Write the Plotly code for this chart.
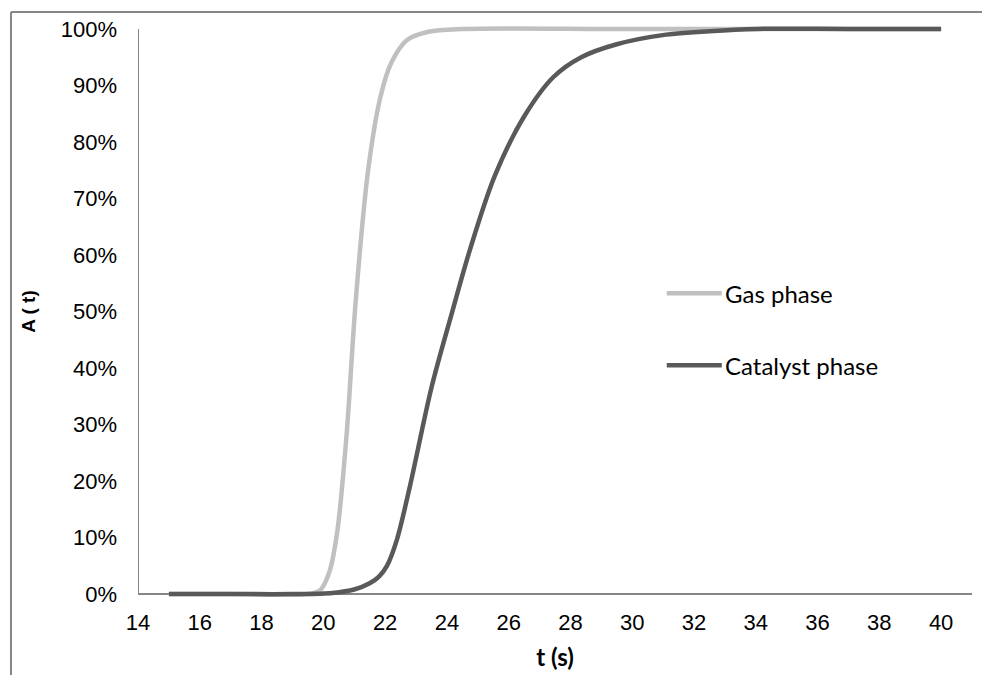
import plotly.graph_objects as go

# ---- data ----
gas_t = [15, 17, 19.5, 19.9, 20.2, 20.45, 20.75, 21.05, 21.45, 21.85, 22.2, 22.7, 23.4, 24.5, 30, 40]
gas_a = [0, 0, 0, 0.7, 4, 11, 28, 52, 75, 88, 94, 98, 99.5, 100, 100, 100]

cat_t = [15, 17, 19, 20.3, 21.0, 21.5, 21.8, 22.06, 22.38, 22.8, 23.5, 24.15, 24.75, 25.55, 26.5,
         27.45, 28.35, 29.5, 31.1, 32.5, 34, 37, 40]
cat_a = [0, 0, 0, 0.2, 0.8, 1.9, 3.1, 5, 9.6, 19, 36.5, 49.5, 61, 74, 84.5,
         91.5, 95, 97.3, 99, 99.6, 100, 100, 100]

series_names = ["Gas phase", "Catalyst phase"]
series_colors = ["#C0C0C0", "#595959"]

x_ticks = list(range(14, 41, 2))
y_ticks = list(range(0, 101, 10))

AXIS_COLOR = "#868686"

fig = go.Figure()
fig.add_trace(go.Scatter(x=gas_t, y=gas_a, mode="lines", name=series_names[0],
                         line=dict(color=series_colors[0], width=4.5, shape="spline", smoothing=0.9),
                         showlegend=False))
fig.add_trace(go.Scatter(x=cat_t, y=cat_a, mode="lines", name=series_names[1],
                         line=dict(color=series_colors[1], width=4.5, shape="spline", smoothing=0.9),
                         showlegend=False))

shapes = [
    # axis lines
    dict(type="line", xref="x", yref="y", x0=14, x1=41, y0=0, y1=0,
         line=dict(color=AXIS_COLOR, width=2), layer="below"),
    dict(type="line", xref="x", yref="y", x0=14, x1=14, y0=0, y1=100,
         line=dict(color=AXIS_COLOR, width=2), layer="below"),
    # chart frame (partially visible)
    dict(type="line", xref="paper", yref="paper", x0=-0.1523, x1=1.2, y0=1.0227, y1=1.0227,
         line=dict(color=AXIS_COLOR, width=2)),
    dict(type="line", xref="paper", yref="paper", x0=-0.1523, x1=-0.1523, y0=-0.3, y1=1.0227,
         line=dict(color=AXIS_COLOR, width=2)),
]

# manual legend
legend_y = [0.532, 0.406]
annotations = []
for name, color, ly in zip(series_names, series_colors, legend_y):
    shapes.append(dict(type="line", xref="paper", yref="paper", x0=0.634, x1=0.700, y0=ly, y1=ly,
                       line=dict(color=color, width=4.5)))
    annotations.append(dict(xref="paper", yref="paper", x=0.702, y=ly, text=name, showarrow=False,
                            xanchor="left", yanchor="middle",
                            font=dict(family="Lato", size=24, color="black")))

# the page body adds an 8px offset, so the figure is 8px smaller than the window
fig.update_layout(
    width=982, height=667,
    margin=dict(l=130, r=18, t=17, b=77),
    paper_bgcolor="white", plot_bgcolor="white",
    shapes=shapes, annotations=annotations,
    showlegend=False,
    xaxis=dict(range=[14, 41], tickvals=x_ticks, ticktext=[str(v) for v in x_ticks],
               showgrid=False, zeroline=False, showline=False, ticks="", automargin=False,
               ticklabelstandoff=9,
               tickfont=dict(family="Liberation Sans, Arial", size=22, color="black"),
               title=dict(text="<b>t (s)</b>", font=dict(family="Lato", size=24, color="black"), standoff=15)),
    yaxis=dict(range=[-0.7, 100.7], tickvals=y_ticks, ticktext=[f"{v}%" for v in y_ticks],
               showgrid=False, zeroline=False, showline=False, ticks="", automargin=False,
               ticklabelstandoff=20,
               tickfont=dict(family="Liberation Sans, Arial", size=22, color="black"),
               title=dict(text="<b>A ( t)</b>", font=dict(family="Liberation Sans, Arial", size=19, color="black"), standoff=20)),
)

fig.write_html("out.html")
